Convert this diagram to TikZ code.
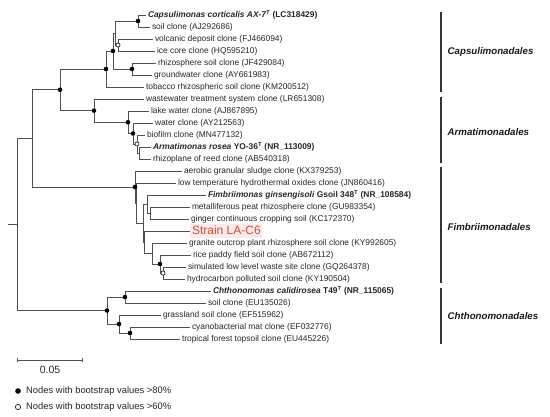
\documentclass[tikz,border=0pt]{standalone}
\usepackage{fontspec}
\setmainfont{Liberation Sans}
\usepackage{tikz}
\usetikzlibrary{arrows}
\definecolor{treegray}{RGB}{80,80,80}
\definecolor{straincol}{RGB}{196,82,52}
\definecolor{strainbg}{RGB}{253,232,236}
\newcommand{\typeT}{\textsuperscript{T}}

\begin{document}
\begin{tikzpicture}[x=1pt,y=-1pt,
  branch/.style={color=treegray, line width=0.9pt},
  leaf/.style={anchor=west, inner sep=1.8pt, text=black!85, font=\fontsize{8.4}{10}\selectfont, text height=6pt, text depth=1.8pt},
  bsfull/.style={circle, fill=black, inner sep=0pt, minimum size=4.6pt},
  bsopen/.style={circle, draw=black, fill=white, line width=0.6pt, inner sep=0pt, minimum size=4.2pt},
  cladebar/.style={color=black!80, line width=1.4pt},
  cladelabel/.style={anchor=west, inner sep=0pt, xshift=6pt, text=black!90, font=\fontsize{9.7}{11}\selectfont\bfseries\itshape},
  keytext/.style={anchor=west, inner sep=0pt, text=black!85, font=\fontsize{9.4}{11}\selectfont}]
\useasboundingbox (0,0) rectangle (550,417);

% internal nodes of the tree
\coordinate (base) at (8,224.5);
\coordinate (root) at (17,224.5);
\coordinate (U) at (32,138.4);
\coordinate (A) at (60,89.8);
\coordinate (Cap) at (106,69);
\coordinate (C1) at (113,51);
\coordinate (C2) at (115,33);
\coordinate (C3) at (138,21);
\coordinate (C4) at (118,45);
\coordinate (C5) at (132,69);
\coordinate (Arm) at (94,110.6);
\coordinate (M1) at (128,122.3);
\coordinate (M2) at (133,133.5);
\coordinate (M3) at (137,144);
\coordinate (M4) at (139,153);
\coordinate (F0) at (135,187);
\coordinate (X) at (136,203);
\coordinate (F1) at (143,223.1);
\coordinate (F2) at (147,204);
\coordinate (F2b) at (150,213);
\coordinate (F3) at (144.5,242.3);
\coordinate (F4) at (152,253.5);
\coordinate (F5) at (160,264);
\coordinate (F6) at (163,273);
\coordinate (Ch) at (107,310.5);
\coordinate (Ch1) at (125,297);
\coordinate (Ch2) at (119,324);
\coordinate (Ch3) at (130,333);

% leaves
\node[leaf] (L1) at (146,15) {\textbf{\textit{Capsulimonas corticalis AX-7\typeT}\ (LC318429)}};
\node[leaf] (L2) at (150,27) {soil clone (AJ292686)};
\node[leaf] (L3) at (153,39) {volcanic deposit clone (FJ466094)};
\node[leaf] (L4) at (155,51) {ice core clone (HQ595210)};
\node[leaf] (L5) at (156,63) {rhizosphere soil clone (JF429084)};
\node[leaf] (L6) at (152,75) {groundwater clone (AY661983)};
\node[leaf] (L7) at (144,87) {tobacco rhizospheric soil clone (KM200512)};
\node[leaf] (L8) at (144,99) {wastewater treatment system clone (LR651308)};
\node[leaf] (L9) at (149,111) {lake water clone (AJ867895)};
\node[leaf] (L10) at (153,123) {water clone (AY212563)};
\node[leaf] (L11) at (145,135) {biofilm clone (MN477132)};
\node[leaf] (L12) at (151,147) {\textbf{\textit{Armatimonas rosea} YO-36\typeT{} (NR\_113009)}};
\node[leaf] (L13) at (151,159) {rhizoplane of reed clone (AB540318)};
\node[leaf] (L14) at (182,171) {aerobic granular sludge clone (KX379253)};
\node[leaf] (L15) at (176,183) {low temperature hydrothermal oxides clone (JN860416)};
\node[leaf] (L16) at (206,195) {\textbf{\textit{Fimbriimonas ginsengisoli} Gsoil 348\typeT{} (NR\_108584)}};
\node[leaf] (L17) at (190,207) {metalliferous peat rhizosphere clone (GU983354)};
\node[leaf] (L18) at (189,219) {ginger continuous cropping soil (KC172370)};
\node[leaf, font=\fontsize{12}{14}\selectfont, text=straincol, fill=strainbg, text height=8.6pt, text depth=2.4pt] (L19) at (190,231) {Strain LA-C6};
\node[leaf] (L20) at (187,243) {granite outcrop plant rhizosphere soil clone (KY992605)};
\node[leaf] (L21) at (191,255) {rice paddy field soil clone (AB672112)};
\node[leaf] (L22) at (186,267) {simulated low level waste site clone (GQ264378)};
\node[leaf] (L23) at (185,279) {hydrocarbon polluted soil clone (KY190504)};
\node[leaf] (L24) at (211,291) {\textbf{\textit{Chthonomonas calidirosea} T49\typeT{} (NR\_115065)}};
\node[leaf] (L25) at (206,303) {soil clone (EU135026)};
\node[leaf] (L26) at (161,315) {grassland soil clone (EF515962)};
\node[leaf] (L27) at (190,327) {cyanobacterial mat clone (EF032776)};
\node[leaf] (L28) at (180,339) {tropical forest topsoil clone (EU445226)};

% branches
\draw[branch] (base) -- (root);
\foreach \p/\c in {root/U, root/Ch, U/A, U/F0, A/Cap, A/Arm, Cap/C1, Cap/L7,
  C1/C2, C1/C5, C2/C3, C2/C4, C3/L1, C3/L2, C4/L3, C4/L4, C5/L5, C5/L6,
  Arm/L8, Arm/M1, M1/L9, M1/M2, M2/L10, M2/M3, M3/L11, M3/M4, M4/L12, M4/L13,
  F0/L14, F0/X, X/L15, X/F1, F1/F2, F1/F3, F2/L16, F2/F2b, F2b/L17, F2b/L18,
  F3/L19, F3/F4, F4/L20, F4/F5, F5/L21, F5/F6, F6/L22, F6/L23,
  Ch/Ch1, Ch/Ch2, Ch1/L24, Ch1/L25, Ch2/L26, Ch2/Ch3, Ch3/L27, Ch3/L28}
  \draw[branch] (\p) |- (\c);

% bootstrap marks
\foreach \n in {A,Cap,C1,C3,C5,Arm,M1,M2,F0,F5,Ch,Ch1,Ch2,Ch3}
  \node[bsfull] (dot\n) at (\n) {};
\foreach \n in {C4,M3,F6}
  \node[bsopen] (dot\n) at (\n) {};

% orders
\draw[cladebar] (441,12) -- (441,92) node[cladelabel, midway] (capsl) {Capsulimonadales};
\draw[cladebar] (441,97) -- (441,163) node[cladelabel, midway, yshift=-2pt] (arml) {Armatimonadales};
\draw[cladebar] (441,167) -- (441,283) node[cladelabel, midway, yshift=-2pt] (fiml) {Fimbriimonadales};
\draw[cladebar] (441,288) -- (441,344) node[cladelabel, midway] (chtl) {Chthonomonadales};

% scale bar
\coordinate (sb1) at (17,360);
\coordinate (sb2) at (82,360);
\draw[branch] (sb1) -- (sb2);
\draw[branch] (sb1) ++(0,-2.2) -- ++(0,4.4);
\draw[branch] (sb2) ++(0,-2.2) -- ++(0,4.4);
\node[text=black!85, font=\fontsize{10.5}{12}\selectfont] (sblabel) at (50,370) {0.05};

% key
\node[bsfull, minimum size=5.6pt] (keyfull) at (18,391) {};
\node[keytext] (keyfulltxt) at (26,391) {Nodes with bootstrap values >80\%};
\node[bsopen, minimum size=5.2pt] (keyopen) at (18,407) {};
\node[keytext] (keyopentxt) at (26,407) {Nodes with bootstrap values >60\%};
\end{tikzpicture}
\end{document}
